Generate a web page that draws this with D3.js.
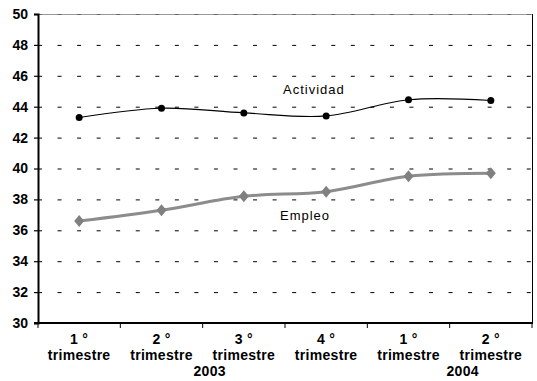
<!DOCTYPE html>
<html><head><meta charset="utf-8">
<script src="https://cdn.jsdelivr.net/npm/d3@7"></script>
<style>body{margin:0;background:#fff}svg{display:block}text{font-family:"Liberation Sans",Arial,sans-serif}</style>
</head><body><svg id="c" width="537" height="381"></svg>
<script>
const quarters = ["1°","2°","3°","4°","1°","2°"];
const actividad = [43.3, 43.9, 43.6, 43.4, 44.45, 44.4];
const empleo = [36.6, 37.3, 38.2, 38.5, 39.5, 39.7];
const yTicks = [30,32,34,36,38,40,42,44,46,48,50];
const years = ["2003","2004"];
const yearAfter = [1, 4];

const svg = d3.select("#c");
const L=38,R=532,T=14,B=323;
const idx = d3.range(quarters.length);
const x = d3.scaleBand().domain(idx).range([L,R]);
const y = d3.scaleLinear().domain([30,50]).range([B,T]);
const cx = i => x(i)+x.bandwidth()/2;

// gridlines
svg.append("g").selectAll("line").data(yTicks.filter(v=>v>30)).join("line")
  .attr("x1",L).attr("x2",R).attr("y1",d=>y(d)+0.5).attr("y2",d=>y(d)+0.5)
  .attr("stroke","#000").attr("stroke-width",1).attr("stroke-dasharray","4,15.55");
// top + right border
svg.append("line").attr("x1",L).attr("x2",R).attr("y1",T+0.5).attr("y2",T+0.5).attr("stroke","#808080").attr("stroke-width",1).attr("opacity",0.8);
svg.append("line").attr("x1",R+0.5).attr("x2",R+0.5).attr("y1",T).attr("y2",B).attr("stroke","#000").attr("stroke-width",1);

// y axis
const yAxis = d3.axisLeft(y).tickValues(yTicks).tickSize(4).tickPadding(6);
const gy = svg.append("g").attr("transform",`translate(${L},0)`).call(yAxis);
gy.select(".domain").attr("stroke-width",2);
gy.selectAll(".tick line").attr("stroke-width",1.2);
gy.selectAll("text").attr("font-size","14px").attr("font-weight","bold").attr("font-family","Liberation Sans, Arial").attr("fill","#000");

// x axis
const gx = svg.append("g").attr("transform",`translate(0,${B})`);
gx.append("line").attr("x1",L-4).attr("x2",R+1).attr("y1",0).attr("y2",0).attr("stroke","#000").attr("stroke-width",2);
gx.selectAll(".xt").data(d3.range(quarters.length+1)).join("line").attr("class","xt")
  .attr("x1",i=>i<quarters.length?x(i):R).attr("x2",i=>i<quarters.length?x(i):R)
  .attr("y1",0).attr("y2",5).attr("stroke","#000").attr("stroke-width",1);
const lab = svg.append("g").attr("font-size","14px").attr("font-weight","bold").attr("text-anchor","middle");
lab.selectAll(".q").data(quarters).join("text").attr("class","q")
  .attr("x",(d,i)=>cx(i)).attr("y",344).text(d=>d.replace("°"," °")).attr("letter-spacing","0.3");
lab.selectAll(".tr").data(quarters).join("text").attr("class","tr")
  .attr("x",(d,i)=>cx(i)).attr("y",360).text("trimestre").attr("letter-spacing","0.3");
lab.selectAll(".yr").data(years).join("text").attr("class","yr")
  .attr("x",(d,i)=>x(yearAfter[i])+x.bandwidth()+(i===0?7:13)).attr("y",376).text(d=>d).attr("letter-spacing","0.3");

const curve = d3.curveCatmullRom.alpha(0);
const line = d3.line().x((d,i)=>cx(i)).y(d=>y(d)).curve(curve);

// empleo
svg.append("path").attr("d",line(empleo)).attr("fill","none").attr("stroke","#8c8c8c").attr("stroke-width",3);
svg.selectAll(".dm").data(empleo).join("path").attr("class","dm")
  .attr("d","M0,-6L5,0L0,6L-5,0Z")
  .attr("transform",(d,i)=>`translate(${cx(i)},${y(d)})`).attr("fill","#808080");

// actividad
svg.append("path").attr("d",line(actividad)).attr("fill","none").attr("stroke","#000").attr("stroke-width",1.2);
svg.selectAll(".ci").data(actividad).join("circle").attr("class","ci")
  .attr("cx",(d,i)=>cx(i)).attr("cy",d=>y(d)).attr("r",3.5).attr("fill","#000");

// series labels
svg.append("text").attr("x",283).attr("y",94).attr("font-size","13px").attr("letter-spacing","1").text("Actividad");
svg.append("text").attr("x",280).attr("y",220).attr("font-size","13px").attr("letter-spacing","1").text("Empleo");
</script></body></html>
